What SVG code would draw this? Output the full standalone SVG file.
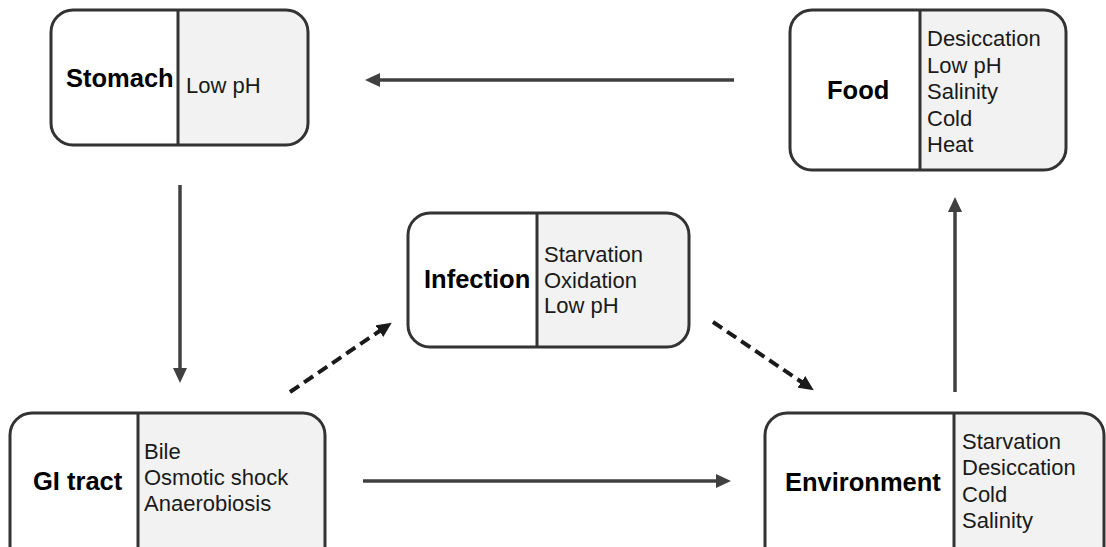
<svg xmlns="http://www.w3.org/2000/svg" width="1106" height="547" viewBox="0 0 1106 547">
  <style>
    .frame { fill: none; stroke: #333333; stroke-width: 3; }
    .left { fill: #ffffff; }
    .right { fill: #f2f2f2; }
    .divider { stroke: #333333; stroke-width: 3; }
    .title { font-family: "Liberation Sans", Arial, sans-serif; font-weight: bold; font-size: 25.5px; fill: #000000; }
    .item { font-family: "Liberation Sans", Arial, sans-serif; font-size: 22px; fill: #1a1a1a; }
    .link { fill: none; stroke: #404040; stroke-width: 3.5; }
    .dash { fill: none; stroke: #1a1a1a; stroke-width: 4; stroke-dasharray: 11 6; }
  </style>
  <defs>
    <marker id="head" markerUnits="userSpaceOnUse" markerWidth="16" markerHeight="14" refX="2" refY="7" orient="auto">
      <path d="M0,0 L15,7 L0,14 z" fill="#404040"/>
    </marker>
    <marker id="headDark" markerUnits="userSpaceOnUse" markerWidth="16" markerHeight="14" refX="2" refY="7" orient="auto">
      <path d="M0,0 L15,7 L0,14 z" fill="#1a1a1a"/>
    </marker>
    <clipPath id="clipStomach"><rect x="51" y="10" width="257" height="135" rx="22"/></clipPath>
    <clipPath id="clipFood"><rect x="790" y="10" width="276" height="160" rx="22"/></clipPath>
    <clipPath id="clipInfection"><rect x="408" y="213" width="281" height="134" rx="22"/></clipPath>
    <clipPath id="clipGI"><rect x="10" y="413" width="315" height="160" rx="22"/></clipPath>
    <clipPath id="clipEnv"><rect x="765" y="413" width="339" height="160" rx="22"/></clipPath>
  </defs>

  <rect width="1106" height="547" fill="#ffffff"/>

  <g id="connectors">
    <!-- solid cycle -->
    <line class="link" x1="734" y1="80" x2="378" y2="80" marker-end="url(#head)"/>
    <line class="link" x1="180" y1="185" x2="180" y2="370" marker-end="url(#head)"/>
    <line class="link" x1="363" y1="481" x2="718" y2="481" marker-end="url(#head)"/>
    <line class="link" x1="955" y1="392" x2="955" y2="210" marker-end="url(#head)"/>
    <!-- dashed detour through infection -->
    <line class="dash" x1="290" y1="392" x2="381" y2="330" marker-end="url(#headDark)"/>
    <line class="dash" x1="713" y1="322" x2="803" y2="383" marker-end="url(#headDark)"/>
  </g>

  <g id="stomach">
    <g clip-path="url(#clipStomach)">
      <rect class="left" x="51" y="10" width="127" height="135"/>
      <rect class="right" x="178" y="10" width="130" height="135"/>
    </g>
    <line class="divider" x1="178" y1="10" x2="178" y2="145"/>
    <rect class="frame" x="51" y="10" width="257" height="135" rx="22"/>
    <text class="title" x="66" y="87">Stomach</text>
    <text class="item" x="186" y="93">Low pH</text>
  </g>

  <g id="food">
    <g clip-path="url(#clipFood)">
      <rect class="left" x="790" y="10" width="130" height="160"/>
      <rect class="right" x="920" y="10" width="146" height="160"/>
    </g>
    <line class="divider" x1="920" y1="10" x2="920" y2="170"/>
    <rect class="frame" x="790" y="10" width="276" height="160" rx="22"/>
    <text class="title" x="827" y="99">Food</text>
    <text class="item" x="927" y="46">Desiccation</text>
    <text class="item" x="927" y="72.5">Low pH</text>
    <text class="item" x="927" y="99">Salinity</text>
    <text class="item" x="927" y="125.5">Cold</text>
    <text class="item" x="927" y="152">Heat</text>
  </g>

  <g id="infection">
    <g clip-path="url(#clipInfection)">
      <rect class="left" x="408" y="213" width="129" height="134"/>
      <rect class="right" x="537" y="213" width="152" height="134"/>
    </g>
    <line class="divider" x1="537" y1="213" x2="537" y2="347"/>
    <rect class="frame" x="408" y="213" width="281" height="134" rx="22"/>
    <text class="title" x="424" y="288">Infection</text>
    <text class="item" x="544" y="262">Starvation</text>
    <text class="item" x="544" y="287.5">Oxidation</text>
    <text class="item" x="544" y="313">Low pH</text>
  </g>

  <g id="gi-tract">
    <g clip-path="url(#clipGI)">
      <rect class="left" x="10" y="413" width="128" height="160"/>
      <rect class="right" x="138" y="413" width="187" height="160"/>
    </g>
    <line class="divider" x1="138" y1="413" x2="138" y2="547"/>
    <rect class="frame" x="10" y="413" width="315" height="160" rx="22"/>
    <text class="title" x="33" y="490">GI tract</text>
    <text class="item" x="144" y="459">Bile</text>
    <text class="item" x="144" y="485">Osmotic shock</text>
    <text class="item" x="144" y="511">Anaerobiosis</text>
  </g>

  <g id="environment">
    <g clip-path="url(#clipEnv)">
      <rect class="left" x="765" y="413" width="189" height="160"/>
      <rect class="right" x="954" y="413" width="150" height="160"/>
    </g>
    <line class="divider" x1="954" y1="413" x2="954" y2="547"/>
    <rect class="frame" x="765" y="413" width="339" height="160" rx="22"/>
    <text class="title" x="785" y="491">Environment</text>
    <text class="item" x="962" y="449">Starvation</text>
    <text class="item" x="962" y="475">Desiccation</text>
    <text class="item" x="962" y="501.5">Cold</text>
    <text class="item" x="962" y="528">Salinity</text>
  </g>
</svg>
